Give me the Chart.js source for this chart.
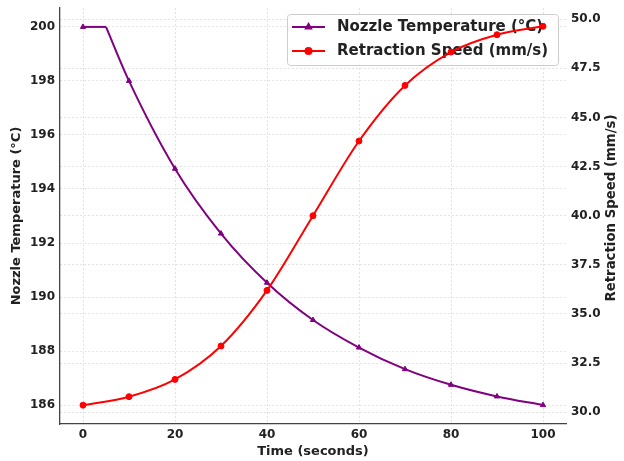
<!DOCTYPE html>
<html>
<head>
<meta charset="utf-8">
<script src="https://cdn.jsdelivr.net/npm/chart.js@4.4.0/dist/chart.umd.min.js"></script>
<style>
  html, body { margin: 0; padding: 0; background: #fff; }
  #wrap { width: 624px; height: 461px; }
</style>
</head>
<body>
<div id="wrap"><canvas id="chart" width="624" height="461"></canvas></div>
<script>
// datos
const timeTemp = [0, 5, 10, 20, 30, 40, 50, 60, 70, 80, 90, 100];
const nozzleTemp = [200, 200, 198.0, 194.75, 192.35, 190.53, 189.15, 188.13, 187.33, 186.75, 186.32, 186.0];
const timeSpeed = [0, 10, 20, 30, 40, 50, 60, 70, 80, 90, 100];
const retractSpeed = [30.36, 30.79, 31.67, 33.37, 36.2, 40.0, 43.8, 46.63, 48.33, 49.21, 49.64];

const xTicks = [0, 20, 40, 60, 80, 100];
const tempTicks = [186, 188, 190, 192, 194, 196, 198, 200];
const speedTicks = [30, 32.5, 35, 37.5, 40, 42.5, 45, 47.5, 50];

const PURPLE = '#800080';
const RED = '#ff0000';
const FONT = 'DejaVu Sans';
Chart.defaults.font.family = FONT;

const toXY = (xs, ys) => xs.map((x, i) => ({ x: x, y: ys[i] }));
const markEvery10 = c => (c.raw && c.raw.x % 10 === 0 ? 3 : 0);

const gridOpts = { color: 'rgba(0,0,0,0.11)', drawTicks: false };
const noPad = s => { s.paddingTop = 0; s.paddingBottom = 0; s.paddingLeft = 0; s.paddingRight = 0; };

// leyenda dentro del area, debajo de la curva roja
const innerLegend = {
    id: 'innerLegend',
    afterDatasetDraw(chart, args) {
        if (args.index !== 0) return;
        const ctx = chart.ctx;
        ctx.save();
        ctx.beginPath();
        ctx.roundRect(287.5, 14.5, 271, 51, 3);
        ctx.fillStyle = 'rgba(255,255,255,0.8)';
        ctx.fill();
        ctx.strokeStyle = '#cccccc';
        ctx.lineWidth = 1;
        ctx.stroke();

        const items = [
            { text: 'Nozzle Temperature (°C)', color: PURPLE, style: 'triangle', y: 27 },
            { text: 'Retraction Speed (mm/s)', color: RED, style: 'circle', y: 51 }
        ];
        items.forEach(it => {
            ctx.strokeStyle = it.color;
            ctx.lineWidth = 2;
            ctx.beginPath();
            ctx.moveTo(292, it.y);
            ctx.lineTo(325, it.y);
            ctx.stroke();
            Chart.helpers.drawPoint(ctx, { pointStyle: it.style, radius: 3, borderWidth: 1 }, 308.5, it.y);
            ctx.fillStyle = it.color;
            ctx.fill();
            ctx.fillStyle = '#222';
            ctx.font = 'bold 15px "' + FONT + '"';
            ctx.textBaseline = 'middle';
            ctx.textAlign = 'left';
            ctx.fillText(it.text, 337, it.y);
        });
        ctx.restore();
    }
};

// titulo del eje derecho (de abajo hacia arriba)
const rightTitle = {
    id: 'rightTitle',
    afterDraw(chart) {
        const ctx = chart.ctx;
        ctx.save();
        ctx.translate(611.5, 208);
        ctx.rotate(-Math.PI / 2);
        ctx.fillStyle = '#222';
        ctx.font = 'bold 13.3px "' + FONT + '"';
        ctx.textAlign = 'center';
        ctx.textBaseline = 'middle';
        ctx.fillText('Retraction Speed (mm/s)', 0, 0);
        ctx.restore();
    }
};

const purpleStyle = {
    yAxisID: 'y',
    borderColor: PURPLE,
    backgroundColor: PURPLE,
    borderWidth: 2,
    pointStyle: 'triangle',
    pointRadius: markEvery10,
    pointBorderWidth: 1,
    order: 2
};

const ctx = document.getElementById('chart').getContext('2d');
new Chart(ctx, {
    type: 'line',
    data: {
        datasets: [
            // tramo plano inicial (0-5 s)
            Object.assign({
                label: 'Nozzle Temperature (°C)',
                data: toXY(timeTemp.slice(0, 2), nozzleTemp.slice(0, 2)),
                tension: 0
            }, purpleStyle),
            // enfriamiento (5-100 s)
            Object.assign({
                label: 'Nozzle Temperature (°C)',
                data: toXY(timeTemp.slice(1), nozzleTemp.slice(1)),
                cubicInterpolationMode: 'monotone'
            }, purpleStyle),
            {
                label: 'Retraction Speed (mm/s)',
                data: toXY(timeSpeed, retractSpeed),
                yAxisID: 'y1',
                borderColor: RED,
                backgroundColor: RED,
                borderWidth: 2,
                pointStyle: 'circle',
                pointRadius: 3,
                pointBorderWidth: 1,
                cubicInterpolationMode: 'monotone',
                order: 1
            }
        ]
    },
    options: {
        responsive: false,
        animation: false,
        layout: { padding: { top: 8, left: 0, right: 0, bottom: 0 } },
        plugins: { legend: { display: false }, tooltip: { enabled: false } },
        scales: {
            x: {
                type: 'linear',
                min: -5, max: 105,
                afterBuildTicks: s => { s.ticks = xTicks.map(v => ({ value: v })); },
                afterFit: s => { s.height = 37; noPad(s); },
                ticks: { color: '#222', padding: 4, font: { size: 12, weight: 'bold' }, callback: v => v },
                grid: gridOpts,
                border: { color: '#444', width: 1.3, dash: [2, 2] },
                title: { display: true, text: 'Time (seconds)', color: '#222', font: { size: 13, weight: 'bold' }, padding: { top: 0, bottom: 1.4 } }
            },
            y: {
                position: 'left',
                min: 185.3, max: 200.7,
                afterBuildTicks: s => { s.ticks = tempTicks.map(v => ({ value: v })); },
                afterFit: s => { s.width = 60; noPad(s); },
                ticks: { color: '#222', padding: 5, font: { size: 12, weight: 'bold' }, callback: v => v },
                grid: gridOpts,
                border: { color: '#444', width: 1.3, dash: [2, 2] },
                title: { display: true, text: 'Nozzle Temperature (°C)', color: '#222', font: { size: 13, weight: 'bold' }, padding: { top: 9, bottom: 0 } }
            },
            y1: {
                position: 'right',
                min: 29.4, max: 50.57,
                afterBuildTicks: s => { s.ticks = speedTicks.map(v => ({ value: v })); },
                afterFit: s => { s.width = 58; noPad(s); },
                ticks: { color: '#222', padding: 5, font: { size: 12, weight: 'bold' }, callback: v => v.toFixed(1) },
                grid: gridOpts,
                border: { display: false, dash: [2, 2] }
            }
        }
    },
    plugins: [innerLegend, rightTitle]
});
</script>
</body>
</html>
